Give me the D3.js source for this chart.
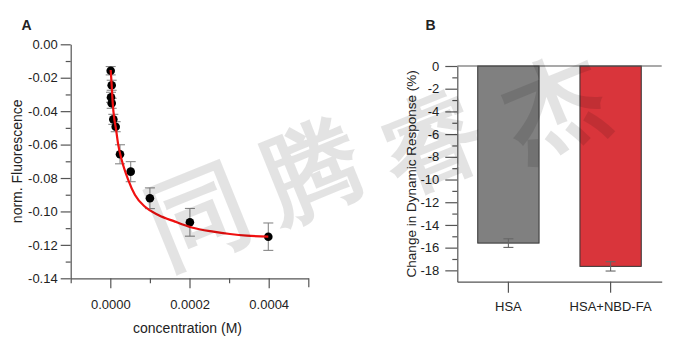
<!DOCTYPE html>
<html><head><meta charset="utf-8">
<script src="https://cdn.jsdelivr.net/npm/d3@7"></script>
<style>
html,body{margin:0;padding:0;background:#fff;}
svg{display:block;}
text{font-family:"Liberation Sans",Arial,sans-serif;fill:#222;}
</style></head>
<body>
<svg id="chart" width="677" height="344"></svg>
<script>
// ---------- Panel A data ----------
const concA  = [1.0e-6, 3.5e-6, 1.8e-6, 3.5e-6, 7.6e-6, 1.36e-5, 2.45e-5, 5.15e-5, 1.0e-4, 2.01e-4, 3.99e-4];
const fluorA = [-0.0158, -0.0245, -0.0317, -0.0353, -0.0449, -0.0493, -0.0658, -0.0762, -0.0921, -0.1065, -0.1151];
const errA   = [0.0025, 0.003, 0.003, 0.003, 0.003, 0.003, 0.0057, 0.006, 0.0062, 0.0083, 0.0082];
// fitted curve
const fitX = [1.0e-6, 3.5e-6, 6.1e-6, 1.01e-5, 1.36e-5, 2.02e-5, 2.88e-5, 4.55e-5, 6.24e-5, 8.76e-5, 1.212e-4, 1.634e-4, 2.056e-4, 2.601e-4, 3.023e-4, 3.444e-4, 3.99e-4];
const fitY = [-0.0154, -0.0244, -0.0351, -0.0447, -0.0495, -0.0603, -0.0692, -0.0812, -0.0902, -0.0972, -0.1021, -0.1061, -0.1096, -0.1121, -0.1135, -0.1145, -0.1151];
const yTicksA = [0, -0.02, -0.04, -0.06, -0.08, -0.10, -0.12, -0.14];
const yMinorA = [-0.01, -0.03, -0.05, -0.07, -0.09, -0.11, -0.13];
const xTicksA = [0, 0.0002, 0.0004];
const xMinorA = [-0.0001, 0.0001, 0.0003];
const xEndA = [0.0005];

// ---------- Panel B data ----------
const categoriesB = ["HSA", "HSA+NBD-FA"];
const valuesB = [-15.6, -17.65];
const errB = [0.38, 0.41];
const colorsB = ["#808080", "#d9353b"];
const yTicksB = [0, -2, -4, -6, -8, -10, -12, -14, -16, -18];
const yMinorB = [-1, -3, -5, -7, -9, -11, -13, -15, -17];

const watermark = ["同", "腾", "睿", "杰"];

const svg = d3.select("#chart");
svg.append("rect").attr("width", 677).attr("height", 344).attr("fill", "#fff");
const axisColor = "#555";
const hy = s => s.replace("\u2212", "-");

// ================= Panel A =================
const xA = d3.scaleLinear().domain([-0.0001, 0.0005]).range([70.7, 308.3]);
const yA = d3.scaleLinear().domain([-0.14, 0]).range([278.3, 44.3]);
const gA = svg.append("g");

function styleAxis(g) {
  g.selectAll("path,line").attr("stroke", axisColor).attr("stroke-width", 1.2);
  g.selectAll("text").attr("fill", "#222").attr("font-size", 13).attr("font-family", "\"Liberation Sans\",Arial,sans-serif");
}

const yAxA = gA.append("g").attr("transform", `translate(${xA.range()[0]},0)`)
  .call(d3.axisLeft(yA).tickValues(yTicksA).tickSize(10).tickSizeOuter(0).tickPadding(3)
    .tickFormat(d => hy(d3.format(".2f")(d))));
styleAxis(yAxA);
gA.append("g").attr("transform", `translate(${xA.range()[0]},0)`)
  .call(d3.axisLeft(yA).tickValues(yMinorA).tickSize(5).tickSizeOuter(0).tickFormat(""))
  .call(g => { g.select(".domain").remove(); styleAxis(g); });

const xAxA = gA.append("g").attr("transform", `translate(0,${yA.range()[0]})`)
  .call(d3.axisBottom(xA).tickValues(xTicksA).tickSize(10).tickSizeOuter(0).tickPadding(11)
    .tickFormat(d => hy(d3.format(".4f")(d))));
styleAxis(xAxA);
gA.append("g").attr("transform", `translate(0,${yA.range()[0]})`)
  .call(d3.axisBottom(xA).tickValues(xMinorA).tickSize(5).tickSizeOuter(0).tickFormat(""))
  .call(g => { g.select(".domain").remove(); styleAxis(g); });
gA.append("g").attr("transform", `translate(0,${yA.range()[0]})`)
  .call(d3.axisBottom(xA).tickValues(xEndA).tickSize(9).tickSizeOuter(0).tickFormat(""))
  .call(g => { g.select(".domain").remove(); styleAxis(g); });

gA.append("text").attr("x", (xA.range()[0] + xA.range()[1]) / 2 - 2).attr("y", 333)
  .attr("text-anchor", "middle").attr("font-size", 14).text("concentration (M)");
gA.append("text").attr("transform", `translate(17.5,${(yA.range()[0] + yA.range()[1]) / 2}) rotate(-90)`)
  .attr("dy", "0.35em").attr("text-anchor", "middle").attr("font-size", 14).text("norm. Fluorescence");
gA.append("text").attr("x", 21.5).attr("y", 29.5).attr("font-size", 14).attr("font-weight", "bold").text("A");

// error bars A
const eb = gA.append("g").attr("stroke", "#888").attr("stroke-width", 1.1);
concA.forEach((c, i) => {
  const x = xA(c), y1 = yA(fluorA[i] + errA[i]), y2 = yA(fluorA[i] - errA[i]);
  eb.append("line").attr("x1", x).attr("x2", x).attr("y1", y1).attr("y2", y2);
  eb.append("line").attr("x1", x - 5).attr("x2", x + 5).attr("y1", y1).attr("y2", y1);
  eb.append("line").attr("x1", x - 5).attr("x2", x + 5).attr("y1", y2).attr("y2", y2);
});
// points
gA.append("g").selectAll("circle").data(concA).join("circle")
  .attr("cx", d => xA(d)).attr("cy", (d, i) => yA(fluorA[i])).attr("r", 4.3).attr("fill", "#000");
// fit curve
gA.append("path").datum(fitX.map((x, i) => [x, fitY[i]]))
  .attr("d", d3.line().x(d => xA(d[0])).y(d => yA(d[1])).curve(d3.curveMonotoneX))
  .attr("fill", "none").attr("stroke", "#f01010").attr("stroke-width", 2.2);

// ================= Panel B =================
const yB = d3.scaleLinear().domain([-19, 0]).range([281.7, 66]);
const xB = d3.scaleBand().domain(categoriesB).range([457.3, 661.7]).paddingInner(0.4).paddingOuter(0.2);
const gB = svg.append("g");

// bars
gB.append("g").selectAll("rect").data(categoriesB).join("rect")
  .attr("x", d => xB(d)).attr("width", xB.bandwidth())
  .attr("y", yB(0)).attr("height", (d, i) => yB(valuesB[i]) - yB(0))
  .attr("fill", (d, i) => colorsB[i]).attr("stroke", "#333").attr("stroke-width", 1);
// error bars B
const ebB = gB.append("g").attr("stroke", "#666").attr("stroke-width", 1.1);
categoriesB.forEach((c, i) => {
  const x = xB(c) + xB.bandwidth() / 2, y1 = yB(valuesB[i] + errB[i]), y2 = yB(valuesB[i] - errB[i]);
  ebB.append("line").attr("x1", x).attr("x2", x).attr("y1", y1).attr("y2", y2);
  ebB.append("line").attr("x1", x - 5).attr("x2", x + 5).attr("y1", y1).attr("y2", y1);
  ebB.append("line").attr("x1", x - 5).attr("x2", x + 5).attr("y1", y2).attr("y2", y2);
});

const yAxB = gB.append("g").attr("transform", `translate(${xB.range()[0]},0)`)
  .call(d3.axisLeft(yB).tickValues(yTicksB).tickSize(12).tickSizeOuter(0).tickPadding(6)
    .tickFormat(d => hy(d3.format("d")(d))));
styleAxis(yAxB);
gB.append("g").attr("transform", `translate(${xB.range()[0]},0)`)
  .call(d3.axisLeft(yB).tickValues(yMinorB).tickSize(5).tickSizeOuter(0).tickFormat(""))
  .call(g => { g.select(".domain").remove(); styleAxis(g); });
// zero line
gB.append("line").attr("x1", xB.range()[0]).attr("x2", xB.range()[1]).attr("y1", yB(0)).attr("y2", yB(0))
  .attr("stroke", axisColor).attr("stroke-width", 1.2);
const xAxB = gB.append("g").attr("transform", `translate(0,${yB.range()[0]})`)
  .call(d3.axisBottom(xB).tickSize(11).tickSizeOuter(0).tickPadding(9));
styleAxis(xAxB);

gB.append("text").attr("transform", `translate(411.7,${(yB.range()[0] + yB.range()[1]) / 2}) rotate(-90)`)
  .attr("dy", "0.35em").attr("text-anchor", "middle").attr("font-size", 13.5).text("Change in Dynamic Response (%)");
gB.append("text").attr("x", 425.5).attr("y", 29.5).attr("font-size", 14).attr("font-weight", "bold").text("B");

// ================= Watermark =================
const wmPos = [[197, 212], [310, 168], [430, 138], [553, 102]];
const wm = svg.append("g").attr("pointer-events", "none");
watermark.forEach((ch, i) => {
  wm.append("text").attr("transform", `translate(${wmPos[i][0]},${wmPos[i][1]}) rotate(-22)`)
    .attr("text-anchor", "middle").attr("dy", "0.38em")
    .attr("font-family", "\"Noto Sans CJK SC\",sans-serif").attr("font-size", 100).attr("font-weight", 700)
    .style("fill", "#000").attr("fill-opacity", 0.11).text(ch);
});
</script>
</body></html>
